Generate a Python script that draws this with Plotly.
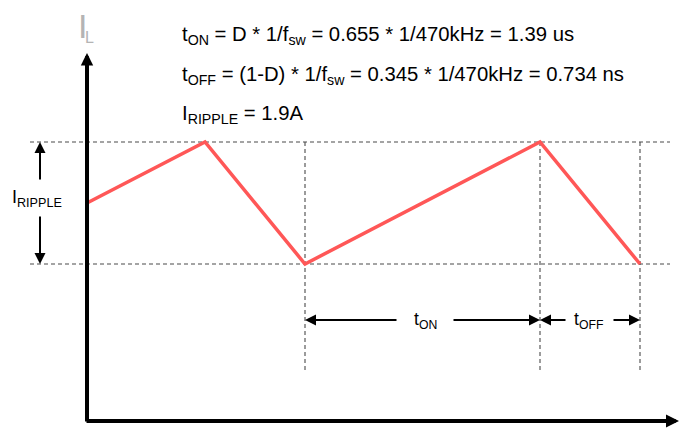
import plotly.graph_objects as go

# ---- data (diagram units: x = time, y = inductor current) ----
t_pts = [0, 118, 218, 453, 553]          # time positions of waveform vertices
i_pts = [218, 279, 157, 279, 157]        # inductor current at those vertices
i_peak = 279
i_valley = 157
t_valley1 = 218
t_peak2 = 453
t_valley2 = 553

eq_lines = [
    "t<sub>ON</sub> = D * 1/f<sub>sw</sub> = 0.655 * 1/470kHz = 1.39 us",
    "t<sub>OFF</sub> = (1-D) * 1/f<sub>sw</sub> = 0.345 * 1/470kHz = 0.734 ns",
    "I<sub>RIPPLE</sub> = 1.9A",
]

FONT = "Liberation Sans, Arial, sans-serif"
RED = "#FF5757"
DASH = "#4A4A4A"

fig = go.Figure()

# waveform
fig.add_trace(go.Scatter(x=t_pts, y=i_pts, mode="lines",
                         line=dict(color=RED, width=3.5), hoverinfo="skip",
                         showlegend=False))

shapes = []
def dline(x0, y0, x1, y1):
    shapes.append(dict(type="line", xref="x", yref="y", x0=x0, y0=y0, x1=x1, y1=y1,
                       line=dict(color=DASH, width=1.1, dash="4px,3px"), layer="below"))

# horizontal dashed guides
dline(-57, i_peak, 583, i_peak)
dline(-57, i_valley, 583, i_valley)
# vertical dashed guides
for tx in (t_valley1, t_peak2, t_valley2):
    dline(tx, i_peak, tx, 48)

annos = []
def arrow(x, y, ax, ay, width=2, size=1.1):
    annos.append(dict(x=x, y=y, ax=ax, ay=ay, xref="x", yref="y", axref="x", ayref="y",
                      text="", showarrow=True, arrowhead=2, arrowsize=size,
                      arrowwidth=width, arrowcolor="black", standoff=0, startstandoff=0))

# axes
arrow(0, 368, 0, -2, width=4, size=0.62)     # vertical axis
arrow(592, 0, -2, 0, width=4, size=0.65)    # horizontal axis

# ripple arrows
arrow(-47, i_peak, -47, 240)
arrow(-47, i_valley, -47, 206)
# t_on arrows
arrow(t_valley1, 101, 311, 101)
arrow(t_peak2, 101, 365, 101)
# t_off arrows
arrow(t_peak2, 101, 480, 101)
arrow(t_valley2, 101, 525, 101)

def txt(x, y, s, size, color="black", xanchor="left", yanchor="middle"):
    annos.append(dict(x=x, y=y, xref="x", yref="y", text=s, showarrow=False,
                      xanchor=xanchor, yanchor=yanchor,
                      font=dict(family=FONT, size=size, color=color)))

# equations
txt(93, 421 - 35, eq_lines[0], 20.3)
txt(93, 421 - 75, eq_lines[1], 20.3)
txt(93, 421 - 114, eq_lines[2], 20.3)

# I_L label
txt(-11, 421 - 26, "I", 34, color="#B4B4B4", xanchor="left")
txt(-4, 421 - 37, "L", 16, color="#B4B4B4", xanchor="left")

# I_RIPPLE label
txt(-77, 421 - 198, "I<sub>RIPPLE</sub>", 18)
# t_on / t_off labels
txt(338, 101, "t<sub>ON</sub>", 17.5, xanchor="center")
txt(501, 101, "t<sub>OFF</sub>", 17.5, xanchor="center")

# page body has an 8px default margin: size figure to fit and shift ranges
fig.update_layout(
    width=686, height=422,
    margin=dict(l=0, r=0, t=0, b=0),
    paper_bgcolor="white", plot_bgcolor="white",
    xaxis=dict(range=[-79, 607], visible=False, fixedrange=True),
    yaxis=dict(range=[-9, 413], visible=False, fixedrange=True),
    shapes=shapes, annotations=annos, showlegend=False,
)

fig.write_html("out.html")
